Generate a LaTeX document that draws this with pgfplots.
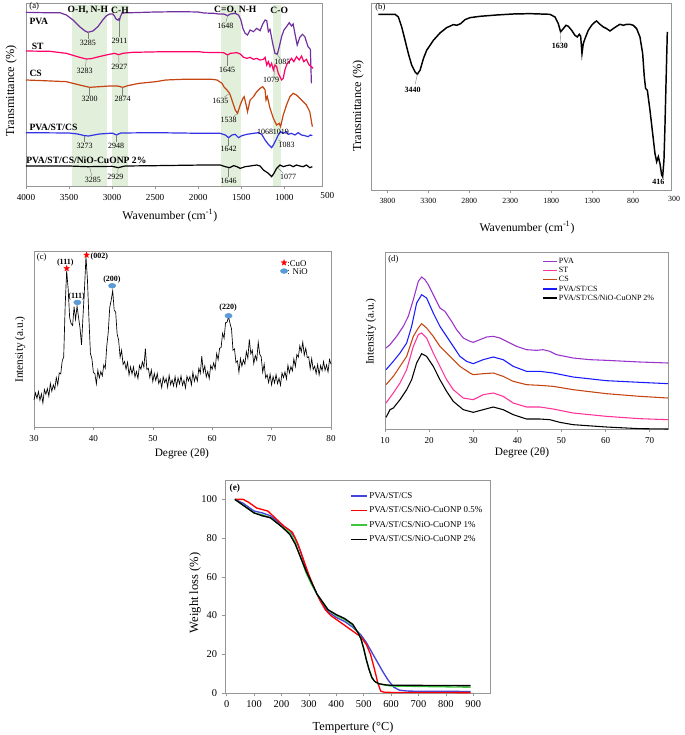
\documentclass[border=0pt]{standalone}
\usepackage{fontspec}
\setmainfont{Liberation Serif}
\usepackage{pgfplots}
\pgfplotsset{compat=1.18}
\definecolor{pvaA}{RGB}{112,48,160}
\definecolor{stA}{RGB}{255,0,102}
\definecolor{csA}{RGB}{197,68,17}
\definecolor{blA}{RGB}{51,51,230}
\definecolor{pvaD}{RGB}{153,51,204}
\definecolor{stD}{RGB}{255,51,153}
\definecolor{blD}{RGB}{26,26,255}
\definecolor{blE}{RGB}{68,68,220}
\definecolor{grnE}{RGB}{60,200,60}
\definecolor{nio}{RGB}{91,155,213}
\definecolor{band}{RGB}{226,239,218}
\definecolor{frame}{RGB}{150,150,150}

% filled five-point star
\pgfdeclareplotmark{fstar}{%
  \pgfpathmoveto{\pgfpointpolar{90}{\pgfplotmarksize}}%
  \pgfpathlineto{\pgfpointpolar{126}{0.42\pgfplotmarksize}}%
  \pgfpathlineto{\pgfpointpolar{162}{\pgfplotmarksize}}%
  \pgfpathlineto{\pgfpointpolar{198}{0.42\pgfplotmarksize}}%
  \pgfpathlineto{\pgfpointpolar{234}{\pgfplotmarksize}}%
  \pgfpathlineto{\pgfpointpolar{270}{0.42\pgfplotmarksize}}%
  \pgfpathlineto{\pgfpointpolar{306}{\pgfplotmarksize}}%
  \pgfpathlineto{\pgfpointpolar{342}{0.42\pgfplotmarksize}}%
  \pgfpathlineto{\pgfpointpolar{18}{\pgfplotmarksize}}%
  \pgfpathlineto{\pgfpointpolar{54}{0.42\pgfplotmarksize}}%
  \pgfpathclose\pgfusepathqfillstroke}

\pgfplotsset{
  panel/.style={
    scale only axis,
    axis line style={draw=frame, line width=0.5pt},
    tick style={draw=frame, line width=0.4pt},
    tick align=outside,
    major tick length=2.5pt,
    ytick=\empty,
    xtick pos=bottom,
    /pgf/number format/assume math mode=true,
    /pgf/number format/set thousands separator={},
    clip=false,
  },
}
\tikzset{
  pk/.style={font=\fontsize{6}{6}\selectfont, inner sep=0pt},
  bk/.style={font=\fontsize{7.2}{7.2}\selectfont\bfseries, inner sep=0pt},
  ld/.style={draw=gray, line width=0.3pt},
}

\begin{document}
\begin{tikzpicture}
\useasboundingbox (0pt,0pt) rectangle (513.75pt,-551.25pt);

% ---------------- (a) FTIR of films
\begin{axis}[panel,
  at={(19.5pt,-139.5pt)}, anchor=south west,
  width=222pt, height=137.25pt,
  x dir=reverse, xmin=562, xmax=4000,
  y dir=reverse, ymin=9, ymax=558,
  xtick={1000,1500,2000,2500,3000,3500,4000},
  xticklabel style={font=\fontsize{6.9}{6.9}\selectfont},
  xlabel={Wavenumber (cm\textsuperscript{-1})},
  xlabel style={font=\fontsize{8.8}{8.8}\selectfont, at={(axis description cs:0.486,-0.16)}, anchor=center},
  ylabel={Transmittance (\%)},
  ylabel style={font=\fontsize{9.2}{9.2}\selectfont, at={(axis description cs:-0.05,0.52)}, anchor=center},
]
\fill[band] (axis cs:3462,14) rectangle (axis cs:3062,558);
\fill[band] (axis cs:3004,14) rectangle (axis cs:2819,558);
\fill[band] (axis cs:1735,14) rectangle (axis cs:1504,558);
\fill[band] (axis cs:1127,14) rectangle (axis cs:1039,558);
\addplot[pvaA, line width=0.9pt] coordinates {
(4000,37)(3800,38)(3608,38)(3531,45)(3454,60)(3377,80)(3319,92)(3281,97)(3223,93)(3165,80)(3108,60)(3069,48)(3031,42)(2992,42)(2973,48)(2954,57)(2935,60)(2923,57)(2915,62)(2904,50)(2885,40)(2838,38)(2762,38)(2500,36)(2200,35)(2000,36)(1935,39)(1820,40)(1762,42)(1704,42)(1658,47)(1627,42)(1570,40)(1531,45)(1504,60)(1481,85)(1454,100)(1427,105)(1397,90)(1358,95)(1320,85)(1281,92)(1250,72)(1223,60)(1204,62)(1185,95)(1166,88)(1135,130)(1108,160)(1081,163)(1058,140)(1031,110)(1004,90)(974,80)(943,68)(916,78)(897,72)(877,100)(850,135)(820,112)(789,103)(762,110)(724,140)(697,148)(685,250)};
\addplot[stA, line width=0.9pt] coordinates {
(4000,153)(3723,154)(3531,160)(3377,172)(3300,177)(3242,176)(3185,172)(3069,165)(2973,160)(2923,164)(2877,160)(2762,157)(2377,155)(1992,155)(1935,157)(1704,158)(1658,165)(1627,160)(1550,158)(1512,162)(1473,172)(1435,175)(1397,172)(1358,178)(1320,175)(1281,180)(1243,178)(1223,172)(1204,195)(1185,185)(1166,200)(1147,190)(1127,210)(1108,195)(1089,200)(1070,220)(1031,240)(1012,235)(993,210)(966,190)(943,185)(916,175)(889,185)(858,170)(827,180)(800,168)(774,185)(743,178)(712,195)(685,200)(666,205)};
\addplot[csA, line width=0.9pt] coordinates {
(4000,240)(3800,242)(3531,245)(3377,255)(3262,262)(3146,260)(3031,258)(2935,258)(2877,262)(2819,257)(2685,250)(2492,245)(2377,240)(2185,238)(1839,238)(1781,240)(1723,250)(1697,262)(1666,270)(1635,280)(1608,300)(1570,330)(1543,340)(1512,315)(1481,295)(1466,290)(1443,315)(1427,335)(1397,300)(1358,290)(1320,275)(1281,265)(1250,260)(1223,270)(1212,300)(1197,290)(1166,325)(1127,355)(1089,375)(1058,370)(1043,380)(1012,345)(974,315)(935,290)(897,280)(858,285)(820,295)(781,305)(743,315)(704,335)(674,380)};
\addplot[blA, line width=0.9pt] coordinates {
(4000,398)(3500,399)(3400,402)(3319,407)(3273,408)(3150,402)(3031,400)(2990,400)(2950,405)(2900,399)(2500,398)(1935,400)(1743,400)(1685,405)(1647,413)(1608,405)(1570,403)(1531,413)(1493,407)(1435,403)(1358,400)(1300,398)(1262,403)(1223,420)(1185,433)(1147,443)(1127,435)(1097,420)(1070,405)(1043,395)(1012,400)(981,395)(954,403)(916,400)(877,405)(839,398)(800,405)(762,407)(724,410)(697,405)(674,407)};
\addplot[black, line width=0.9pt] coordinates {
(4000,498)(3500,498)(3285,500)(3000,499)(2929,503)(2850,498)(2500,497)(1935,495)(1743,495)(1685,500)(1635,503)(1589,497)(1550,500)(1512,505)(1454,500)(1397,498)(1320,495)(1281,498)(1243,510)(1185,520)(1147,530)(1120,520)(1089,505)(1050,495)(1012,500)(974,497)(935,495)(897,500)(858,495)(820,498)(781,500)(743,495)(704,503)(674,500)};
\node[font=\fontsize{6.9}{6.9}\selectfont, anchor=north, inner sep=0pt] at (axis cs:500,558) [yshift=-4.5pt] {500};
\node[font=\fontsize{6.5}{6.5}\selectfont, inner sep=0pt] at (axis cs:3904,18) {(a)};
\node[bk] at (axis cs:3281,30) {O-H, N-H};
\node[bk] at (axis cs:2908,30) {C-H};
\node[bk] at (axis cs:1569,30) {C=O, N-H};
\node[bk] at (axis cs:1058,30) {C-O};
\node[bk, anchor=west] at (axis cs:3962,65) {PVA};
\node[bk, anchor=west] at (axis cs:3935,140) {ST};
\node[bk, anchor=west] at (axis cs:3962,220) {CS};
\node[bk, anchor=west] at (axis cs:3962,383) {PVA/ST/CS};
\node[bk, anchor=west] at (axis cs:4000,482) {PVA/ST/CS/NiO-CuONP 2\%};
\node[pk] at (axis cs:3281,128) {3285};
\draw[ld] (axis cs:3281,97) -- (axis cs:3281,116);
\node[pk] at (axis cs:2915,123) {2911};
\draw[ld] (axis cs:2915,62) -- (axis cs:2915,112);
\node[pk] at (axis cs:1685,78) {1648};
\draw[ld] (axis cs:1658,47) -- (axis cs:1680,68);
\node[pk] at (axis cs:1023,185) {1085};
\draw[ld] (axis cs:1081,163) -- (axis cs:1050,175);
\node[pk] at (axis cs:3319,213) {3283};
\draw[ld] (axis cs:3300,177) -- (axis cs:3310,202);
\node[pk] at (axis cs:2915,201) {2927};
\draw[ld] (axis cs:2923,164) -- (axis cs:2920,190);
\node[pk] at (axis cs:1665,209) {1645};
\draw[ld] (axis cs:1658,165) -- (axis cs:1658,198);
\node[pk] at (axis cs:1154,240) {1079};
\draw[ld] (axis cs:1108,196) -- (axis cs:1120,228);
\node[pk] at (axis cs:3262,298) {3200};
\draw[ld] (axis cs:3262,262) -- (axis cs:3262,287);
\node[pk] at (axis cs:2877,298) {2874};
\draw[ld] (axis cs:2877,262) -- (axis cs:2877,287);
\node[pk] at (axis cs:1742,302) {1635};
\draw[ld] (axis cs:1635,280) -- (axis cs:1700,292);
\node[pk] at (axis cs:1646,360) {1538};
\draw[ld] (axis cs:1543,340) -- (axis cs:1590,350);
\node[pk] at (axis cs:3319,438) {3273};
\draw[ld] (axis cs:3319,407) -- (axis cs:3319,427);
\node[pk] at (axis cs:2954,438) {2948};
\draw[ld] (axis cs:2950,405) -- (axis cs:2950,427);
\node[pk] at (axis cs:1646,448) {1642};
\draw[ld] (axis cs:1647,413) -- (axis cs:1647,437);
\node[pk] at (axis cs:1223,395) {1068};
\node[pk] at (axis cs:1039,395) {1019};
\node[pk] at (axis cs:973,435) {1083};
\draw[ld] (axis cs:1070,420) -- (axis cs:1012,428);
\node[pk] at (axis cs:3223,540) {3285};
\draw[ld] (axis cs:3262,500) -- (axis cs:3235,528);
\node[pk] at (axis cs:2962,530) {2929};
\draw[ld] (axis cs:2929,503) -- (axis cs:2935,518);
\node[pk] at (axis cs:1646,543) {1646};
\draw[ld] (axis cs:1647,503) -- (axis cs:1647,532);
\node[pk] at (axis cs:954,530) {1077};
\draw[ld] (axis cs:1070,505) -- (axis cs:1010,520);
\end{axis}

% ---------------- (b) FTIR of NiO-CuO NPs
\begin{axis}[panel,
  at={(278.25pt,-142.5pt)}, anchor=south west,
  width=225pt, height=140.25pt,
  x dir=reverse, xmin=337, xmax=4000,
  y dir=reverse, ymin=8, ymax=570,
  xtick={800,1300,1800,2300,2800,3300,3800},
  xticklabel style={font=\fontsize{5.9}{5.9}\selectfont},
  xlabel={Wavenumber (cm\textsuperscript{-1})},
  xlabel style={font=\fontsize{8.8}{8.8}\selectfont, at={(axis description cs:0.52,-0.2)}, anchor=center},
  ylabel={Transmittance (\%)},
  ylabel style={font=\fontsize{9.2}{9.2}\selectfont, at={(axis description cs:-0.043,0.45)}, anchor=center},
]
\addplot[black, line width=1.1pt] coordinates {
(3910,42)(3808,42)(3706,42)(3666,50)(3625,80)(3584,120)(3544,160)(3503,195)(3462,215)(3434,222)(3401,210)(3360,175)(3320,150)(3238,120)(3157,98)(3076,82)(2994,73)(2953,75)(2905,70)(2852,58)(2791,52)(2669,48)(2465,44)(2262,41)
(2059,40)(1815,42)(1754,50)(1713,70)(1685,95)(1652,85)(1619,75)(1591,78)(1550,90)(1510,105)(1481,110)(1457,102)(1440,108)(1424,160)(1408,130)(1387,115)(1347,90)(1306,75)(1265,65)(1245,62)(1204,72)(1164,80)(1123,85)(1082,92)(1042,85)(1001,78)(960,72)(919,75)(879,72)(838,72)(797,75)(757,85)(716,110)(683,160)(663,230)(647,265)(626,270)(594,330)(561,400)(533,460)(512,485)(492,470)(472,490)(451,525)(439,530)(423,480)(411,380)(398,250)(382,95)};
\node[font=\fontsize{5.9}{5.9}\selectfont, anchor=north, inner sep=0pt] at (axis cs:300,570) [yshift=-4.5pt] {300};
\node[font=\fontsize{6.5}{6.5}\selectfont, inner sep=0pt] at (axis cs:3886,20) {(b)};
\node[font=\fontsize{6}{6}\selectfont\bfseries, inner sep=0pt] at (axis cs:3491,268) {3440};
\draw[ld] (axis cs:3434,222) -- (axis cs:3460,252);
\node[font=\fontsize{6}{6}\selectfont\bfseries, inner sep=0pt] at (axis cs:1693,138) {1630};
\draw[ld] (axis cs:1685,95) -- (axis cs:1690,125);
\node[font=\fontsize{6}{6}\selectfont\bfseries, inner sep=0pt] at (axis cs:492,545) {416};
\end{axis}

% ---------------- (c) XRD of NiO-CuO NPs
\begin{axis}[panel,
  at={(25.5pt,-320.25pt)}, anchor=south west,
  width=222.75pt, height=132pt,
  xmin=30, xmax=80,
  y dir=reverse, ymin=93, ymax=620,
  xtick={30,40,50,60,70,80},
  xticklabel style={font=\fontsize{6.8}{6.8}\selectfont},
  xlabel={Degree (2θ)},
  xlabel style={font=\fontsize{8.5}{8.5}\selectfont, at={(axis description cs:0.498,-0.15)}, anchor=center},
  ylabel={Intensity (a.u.)},
  ylabel style={font=\fontsize{8.5}{8.5}\selectfont, at={(axis description cs:-0.047,0.44)}, anchor=center},
]
\addplot[black, line width=0.5pt] coordinates {
(30.00,539)(30.25,518)(30.50,534)(30.75,514)(31.00,540)(31.25,521)(31.50,548)(31.75,508)(32.00,522)(32.25,505)(32.50,528)(32.75,490)(33.00,513)(33.25,494)(33.50,507)(33.75,472)(34.00,494)(34.25,458)(34.50,461)(34.75,422)(35.00,410)(35.25,256)(35.50,152)(35.75,206)(36.00,292)(36.25,310)(36.50,316)(36.75,260)(37.00,298)(37.25,258)(37.50,292)(37.75,324)(38.00,374)(38.25,288)(38.50,206)(38.75,110)(39.00,180)(39.25,296)(39.50,400)(39.75,416)
(40.00,457)(40.25,460)(40.50,491)(40.75,450)(41.00,473)(41.25,454)(41.50,467)(41.75,434)(42.00,444)(42.25,378)(42.50,336)(42.75,262)(43.00,240)(43.25,212)(43.50,270)(43.75,276)(44.00,342)(44.25,360)(44.50,411)(44.75,390)(45.00,433)(45.25,424)(45.50,447)(45.75,426)(46.00,464)(46.25,440)(46.50,461)(46.75,440)(47.00,470)(47.25,454)(47.50,475)(47.75,436)(48.00,447)(48.25,425)(48.50,441)(48.75,385)(49.00,448)(49.25,444)(49.50,472)(49.75,449)
(50.00,484)(50.25,460)(50.50,481)(50.75,460)(51.00,490)(51.25,477)(51.50,502)(51.75,470)(52.00,487)(52.25,475)(52.50,501)(52.75,465)(53.00,493)(53.25,479)(53.50,497)(53.75,469)(54.00,499)(54.25,473)(54.50,491)(54.75,467)(55.00,495)(55.25,480)(55.50,503)(55.75,468)(56.00,482)(56.25,469)(56.50,494)(56.75,456)(57.00,483)(57.25,466)(57.50,482)(57.75,444)(58.00,459)(58.25,408)(58.50,456)(58.75,437)(59.00,470)(59.25,454)(59.50,475)(59.75,436)
(60.00,447)(60.25,428)(60.50,446)(60.75,400)(61.00,418)(61.25,384)(61.50,382)(61.75,339)(62.00,354)(62.25,308)(62.50,306)(62.75,290)(63.00,310)(63.25,326)(63.50,390)(63.75,386)(64.00,427)(64.25,422)(64.50,456)(64.75,415)(65.00,438)(65.25,419)(65.50,432)(65.75,394)(66.00,414)(66.25,358)(66.50,401)(66.75,390)(67.00,430)(67.25,406)(67.50,420)(67.75,366)(68.00,402)(68.25,410)(68.50,456)(68.75,432)(69.00,473)(69.25,464)(69.50,487)(69.75,462)
(70.00,494)(70.25,469)(70.50,488)(70.75,463)(71.00,490)(71.25,474)(71.50,495)(71.75,458)(72.00,472)(72.25,455)(72.50,476)(72.75,435)(73.00,458)(73.25,439)(73.50,452)(73.75,416)(74.00,439)(74.25,403)(74.50,411)(74.75,377)(75.00,395)(75.25,366)(75.50,405)(75.75,384)(76.00,412)(76.25,410)(76.50,446)(76.75,415)(77.00,448)(77.25,438)(77.50,460)(77.75,433)(78.00,464)(78.25,436)(78.50,451)(78.75,424)(79.00,450)(79.25,434)(79.50,455)(79.75,418)(80.00,432)};
% phase markers
\addplot[only marks, mark=fstar, mark size=2.3pt, red, mark options={fill=red, draw=red, line width=0.2pt}] coordinates {(35.5,145)(38.85,105)(72.1,128)};
\addplot[only marks, mark=*, mark size=1.8pt, nio, mark options={fill=nio, draw=nio, xscale=1.5}] coordinates {(37.3,247)(43.15,197)(62.75,287)(72.1,153)};
\node[font=\fontsize{6.5}{6.5}\selectfont, inner sep=0pt] at (axis cs:31.3,112) {(c)};
\node[font=\fontsize{6}{6}\selectfont\bfseries, inner sep=0pt] at (axis cs:35.27,127) {(111)};
\node[font=\fontsize{6}{6}\selectfont\bfseries, inner sep=0pt, anchor=west] at (axis cs:39.5,110) {(002)};
\node[font=\fontsize{6}{6}\selectfont\bfseries, inner sep=0pt] at (axis cs:37.18,230) {(111)};
\node[font=\fontsize{6}{6}\selectfont\bfseries, inner sep=0pt] at (axis cs:43.13,178) {(200)};
\node[font=\fontsize{6}{6}\selectfont\bfseries, inner sep=0pt] at (axis cs:62.66,262) {(220)};
\node[font=\fontsize{6.6}{6.6}\selectfont, inner sep=0pt, anchor=west] at (axis cs:72.6,130) {:CuO};
\node[font=\fontsize{6.6}{6.6}\selectfont, inner sep=0pt, anchor=west] at (axis cs:72.6,155) {: NiO};
\end{axis}

% ---------------- (d) XRD of films
\begin{axis}[panel,
  at={(288.75pt,-321.75pt)}, anchor=south west,
  width=212.25pt, height=132.75pt,
  xmin=10, xmax=74.15,
  y dir=reverse, ymin=97, ymax=628,
  xtick={10,20,30,40,50,60,70},
  xticklabel style={font=\fontsize{6.8}{6.8}\selectfont},
  xlabel={Degree (2θ)},
  xlabel style={font=\fontsize{8.5}{8.5}\selectfont, at={(axis description cs:0.484,-0.137)}, anchor=center},
  ylabel={Intensity (a.u.)},
  ylabel style={font=\fontsize{8.5}{8.5}\selectfont, at={(axis description cs:-0.05,0.55)}, anchor=center},
  legend style={draw=none, fill=none, at={(0.54,0.99)}, anchor=north west,
    font=\fontsize{6}{6}\selectfont, row sep=0pt,
    nodes={text height=4.4pt, text depth=1.2pt, inner sep=0.65pt}},
  legend cell align=left,
  legend image code/.code={\draw[#1, line width=1pt] (0pt,0pt) -- (11pt,0pt);},
]
\addplot[pvaD, line width=0.8pt] coordinates {
(10.23,385)(11.13,375)(12.64,350)(14.15,320)(15.28,290)(16.42,240)(17.55,185)(18.30,172)(19.06,180)(19.81,195)(20.94,225)(22.45,265)(23.58,275)(24.34,290)(25.09,305)(26.23,330)(27.74,355)(29.25,365)(30.00,368)(31.51,360)(33.02,352)(34.53,350)(36.04,355)(37.55,365)(39.81,380)(42.08,390)(44.34,392)(45.85,390)(47.36,395)(48.87,405)(52.64,415)(56.42,420)(60.19,422)(67.74,427)(74.15,430)};
\addlegendentry{PVA}
\addplot[stD, line width=0.8pt] coordinates {
(10.23,550)(11.89,520)(13.40,490)(14.91,450)(16.42,380)(17.55,345)(18.30,340)(19.43,355)(20.94,400)(22.45,440)(23.96,480)(25.47,510)(27.74,535)(30.00,540)(32.26,525)(34.53,520)(36.79,530)(39.06,550)(42.08,562)(45.09,562)(48.11,568)(52.64,580)(60.19,590)(67.74,597)(74.15,600)};
\addlegendentry{ST}
\addplot[csA, line width=0.8pt] coordinates {
(10.23,495)(11.89,470)(13.40,440)(14.91,410)(16.42,350)(17.55,325)(18.30,312)(19.43,325)(20.94,350)(22.45,380)(23.96,400)(25.47,420)(26.98,440)(29.25,460)(30.00,465)(32.26,462)(34.53,460)(36.79,470)(39.06,485)(42.08,495)(45.09,497)(48.11,500)(52.64,510)(60.19,522)(67.74,530)(74.15,535)};
\addlegendentry{CS}
\addplot[blD, line width=0.8pt] coordinates {
(10.23,450)(11.89,425)(13.40,400)(14.91,370)(16.04,320)(17.17,250)(18.30,225)(19.43,235)(20.94,280)(22.45,320)(23.96,350)(25.47,380)(26.98,410)(28.49,425)(30.00,432)(32.26,420)(34.53,412)(36.79,420)(39.06,440)(42.08,455)(45.09,455)(48.11,460)(52.64,472)(60.19,483)(67.74,488)(74.15,492)};
\addlegendentry{PVA/ST/CS}
\addplot[black, line width=0.8pt] coordinates {
(10.23,593)(10.75,580)(11.13,570)(11.89,565)(13.40,540)(14.91,510)(16.04,480)(17.17,430)(18.30,402)(19.43,410)(20.94,440)(22.45,480)(23.96,515)(25.47,545)(27.74,570)(30.00,578)(32.26,570)(34.53,562)(36.79,570)(39.06,585)(42.08,598)(45.09,598)(47.36,600)(49.62,608)(52.64,615)(60.19,622)(67.74,627)(74.15,628)};
\addlegendentry{PVA/ST/CS/NiO-CuONP 2\%}
\node[font=\fontsize{6.5}{6.5}\selectfont, inner sep=0pt] at (axis cs:11.9,118) {(d)};
\end{axis}

% ---------------- (e) TGA
\begin{axis}[panel,
  at={(168.75pt,-519.75pt)}, anchor=south west,
  width=198.75pt, height=159.75pt,
  xmin=-6, xmax=961, ymin=0, ymax=110,
  xtick={0,100,...,900}, ytick={0,20,...,100},
  ytick pos=left,
  ticklabel style={font=\fontsize{7.8}{7.8}\selectfont},
  xlabel={Temperture (°C)},
  xlabel style={font=\fontsize{9.2}{9.2}\selectfont, at={(axis description cs:0.483,-0.16)}, anchor=center},
  ylabel={Weight loss (\%)},
  ylabel style={font=\fontsize{9.4}{9.4}\selectfont, at={(axis description cs:-0.113,0.47)}, anchor=center},
  legend style={draw=none, fill=none, at={(0.455,0.965)}, anchor=north west,
    font=\fontsize{6.7}{6.7}\selectfont, row sep=2.3pt,
    nodes={text height=5pt, text depth=1.5pt, inner sep=1pt}},
  legend cell align=left,
  legend image code/.code={\draw[#1, line width=1.1pt] (0pt,0pt) -- (12.5pt,0pt);},
]
\addplot[blE, line width=1pt] coordinates {
(30,100)(60,98)(100,94)(130,93)(160,91.5)(200,87)(230,84)(250,80)(270,73)(290,64)(310,57)(330,51)(350,46)(370,42)(400,39)(430,37)(460,34)(490,30)(510,26)(530,21)(550,16)(570,11)(590,6.5)(610,3)(630,1.5)(660,1)(700,0.9)(890,0.8)};
\addlegendentry{PVA/ST/CS}
\addplot[red, line width=1pt] coordinates {
(30,100)(60,100)(80,98.5)(110,95.5)(150,94)(180,90)(210,86)(240,83)(260,77)(280,69)(300,61)(320,54)(340,48)(360,43)(380,40)(400,38)(430,35)(460,32)(490,29)(510,25)(525,20)(540,12)(552,5)(562,1)(575,0.4)(600,0.3)(890,0.2)};
\addlegendentry{PVA/ST/CS/NiO-CuONP 0.5\%}
\addplot[grnE, line width=1pt] coordinates {
(30,100)(60,97)(100,93)(130,92)(160,90.5)(200,86)(230,83)(250,78)(270,70)(290,62)(310,56)(330,51)(350,47)(370,43)(400,40)(430,38)(460,35)(480,31)(490,28)(500,23)(510,17)(520,12)(530,8)(540,6)(555,4.8)(580,4)(600,3.6)(890,3)};
\addlegendentry{PVA/ST/CS/NiO-CuONP 1\%}
\addplot[black, line width=1pt] coordinates {
(30,100)(60,97)(100,93)(130,91.5)(160,90.5)(200,86)(230,82)(250,77)(270,70)(290,63)(310,57)(330,51)(350,47)(370,43)(400,40.5)(430,38.5)(460,35.5)(480,31)(490,28)(500,23)(510,17)(520,12)(530,8)(540,6)(555,4.8)(580,4.2)(600,4)(890,3.8)};
\addlegendentry{PVA/ST/CS/NiO-CuONP 2\%}
\node[font=\fontsize{7}{7}\selectfont\bfseries, inner sep=0pt] at (axis cs:30,105.5) {(e)};
\end{axis}
\end{tikzpicture}
\end{document}
